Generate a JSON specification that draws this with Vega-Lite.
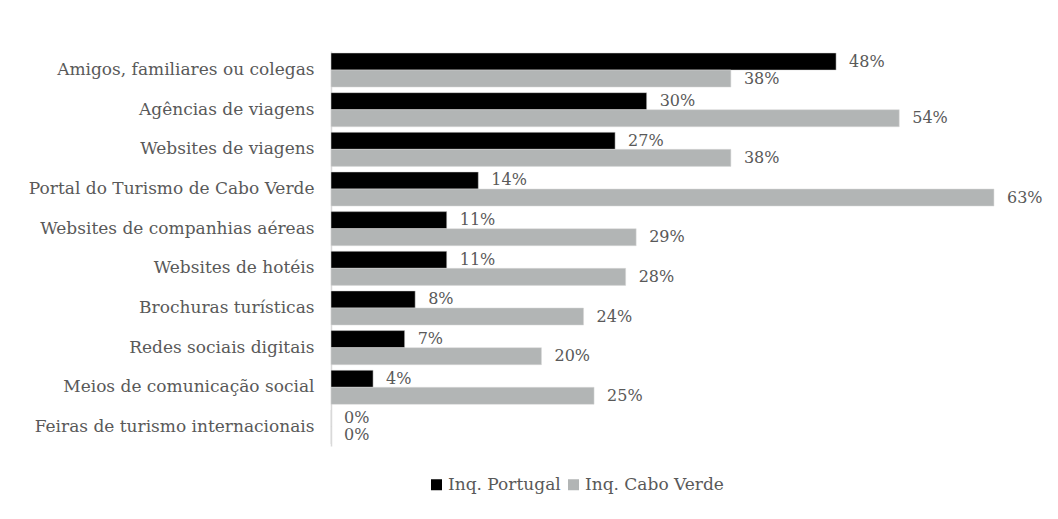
{
  "$schema": "https://vega.github.io/schema/vega-lite/v6.json",
  "width": 684,
  "height": 395,
  "autosize": "none",
  "padding": {"left": 331, "top": 51, "right": 43, "bottom": 73},
  "background": "white",
  "config": {
    "view": {"stroke": null},
    "font": "DejaVu Serif"
  },
  "data": {
    "values": [
      {"cat": "Amigos, familiares ou colegas", "serie": "Inq. Portugal", "v": 0.48},
      {"cat": "Amigos, familiares ou colegas", "serie": "Inq. Cabo Verde", "v": 0.38},
      {"cat": "Agências de viagens", "serie": "Inq. Portugal", "v": 0.30},
      {"cat": "Agências de viagens", "serie": "Inq. Cabo Verde", "v": 0.54},
      {"cat": "Websites de viagens", "serie": "Inq. Portugal", "v": 0.27},
      {"cat": "Websites de viagens", "serie": "Inq. Cabo Verde", "v": 0.38},
      {"cat": "Portal do Turismo de Cabo Verde", "serie": "Inq. Portugal", "v": 0.14},
      {"cat": "Portal do Turismo de Cabo Verde", "serie": "Inq. Cabo Verde", "v": 0.63},
      {"cat": "Websites de companhias aéreas", "serie": "Inq. Portugal", "v": 0.11},
      {"cat": "Websites de companhias aéreas", "serie": "Inq. Cabo Verde", "v": 0.29},
      {"cat": "Websites de hotéis", "serie": "Inq. Portugal", "v": 0.11},
      {"cat": "Websites de hotéis", "serie": "Inq. Cabo Verde", "v": 0.28},
      {"cat": "Brochuras turísticas", "serie": "Inq. Portugal", "v": 0.08},
      {"cat": "Brochuras turísticas", "serie": "Inq. Cabo Verde", "v": 0.24},
      {"cat": "Redes sociais digitais", "serie": "Inq. Portugal", "v": 0.07},
      {"cat": "Redes sociais digitais", "serie": "Inq. Cabo Verde", "v": 0.20},
      {"cat": "Meios de comunicação social", "serie": "Inq. Portugal", "v": 0.04},
      {"cat": "Meios de comunicação social", "serie": "Inq. Cabo Verde", "v": 0.25},
      {"cat": "Feiras de turismo internacionais", "serie": "Inq. Portugal", "v": 0.0},
      {"cat": "Feiras de turismo internacionais", "serie": "Inq. Cabo Verde", "v": 0.0}
    ]
  },
  "encoding": {
    "y": {
      "field": "cat",
      "type": "nominal",
      "sort": null,
      "scale": {"paddingInner": 0.14, "paddingOuter": 0.05},
      "axis": {
        "title": null,
        "ticks": false,
        "labelPadding": 17,
        "labelFontSize": 17,
        "labelColor": "#595959",
        "labelFont": "DejaVu Serif",
        "domainColor": "#d9d9d9",
        "domainWidth": 1.5,
        "labelLimit": 400
      }
    },
    "yOffset": {
      "field": "serie",
      "type": "nominal",
      "scale": {"domain": ["Inq. Portugal", "Inq. Cabo Verde"], "paddingInner": 0, "paddingOuter": 0}
    },
    "x": {
      "field": "v",
      "type": "quantitative",
      "scale": {"domain": [0, 0.65]},
      "axis": null
    }
  },
  "layer": [
    {
      "mark": {"type": "bar", "stroke": "#d9d9d9", "strokeWidth": 0.5},
      "encoding": {
        "color": {
          "field": "serie",
          "type": "nominal",
          "scale": {"domain": ["Inq. Portugal", "Inq. Cabo Verde"], "range": ["#000000", "#b2b5b5"]},
          "legend": {
            "title": null,
            "orient": "none",
            "direction": "horizontal",
            "legendX": 97,
            "legendY": 425,
            "symbolType": "square",
            "symbolSize": 121,
            "symbolStrokeWidth": 0,
            "labelFontSize": 17,
            "labelColor": "#595959",
            "labelFont": "DejaVu Serif",
            "labelOffset": 3,
            "columnPadding": 4
          }
        }
      }
    },
    {
      "mark": {"type": "text", "align": "left", "baseline": "middle", "dx": 13, "fontSize": 16, "color": "#595959", "font": "DejaVu Serif"},
      "encoding": {
        "text": {"field": "v", "type": "quantitative", "format": ".0%"}
      }
    }
  ]
}
